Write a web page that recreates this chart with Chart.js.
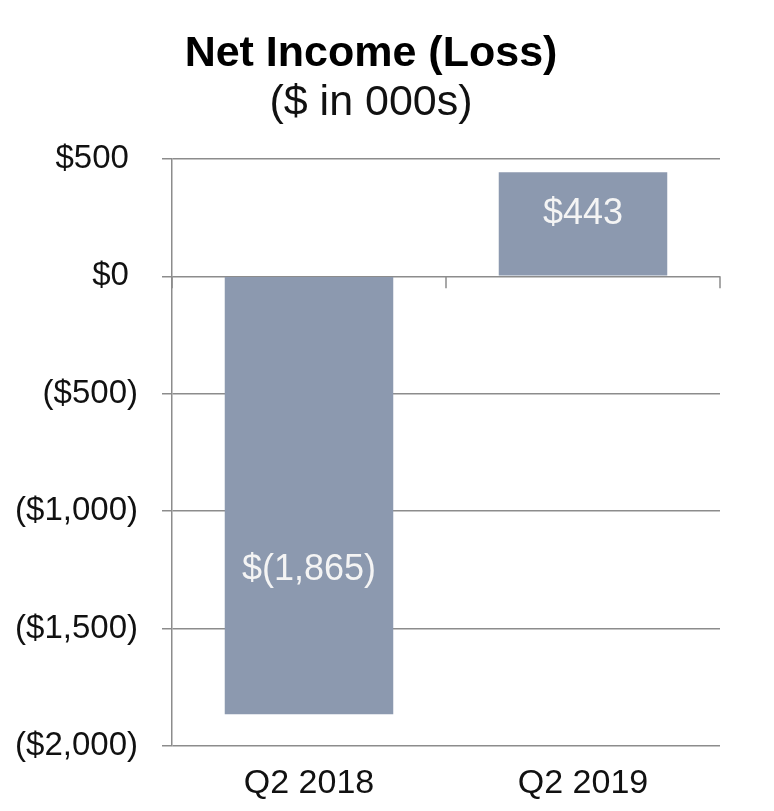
<!DOCTYPE html>
<html>
<head>
<meta charset="utf-8">
<script src="https://cdn.jsdelivr.net/npm/chart.js@4.4.0/dist/chart.umd.min.js"></script>
<style>
  html, body { margin: 0; padding: 0; background: #fff; }
  #wrap { width: 774px; height: 811px; }
</style>
</head>
<body>
<div id="wrap"><canvas id="incomeChart" width="774" height="811"></canvas></div>
<script>
// данные с картинки
const quarters = ['Q2 2018', 'Q2 2019'];
const netIncome = [-1865, 443];
const barLabels = ['$(1,865)', '$443'];
const yTicks = [500, 0, -500, -1000, -1500, -2000];

const FONT = "'Liberation Sans', Arial, sans-serif";
const gridGray = '#8c8c8c';

// формат как в Excel: положительные с отступом под ")"
function money(v) {
  const s = '$' + Math.abs(v).toLocaleString('en-US');
  return v < 0 ? '(' + s + ')' : s + ' ';
}

// подписи внутри столбиков
const barText = {
  id: 'barText',
  afterDatasetsDraw(chart, args, opts) {
    const ctx = chart.ctx;
    const meta = chart.getDatasetMeta(0);
    const y = chart.scales.y;
    ctx.save();
    ctx.font = '36px ' + FONT;
    ctx.fillStyle = '#f4f4f4';
    ctx.textAlign = 'center';
    ctx.textBaseline = 'middle';
    meta.data.forEach((bar, i) => {
      ctx.fillText(barLabels[i], bar.x, y.getPixelForValue(opts.anchors[i]));
    });
    ctx.restore();
  }
};

// засечки на нулевой линии между категориями
const zeroTicks = {
  id: 'zeroTicks',
  afterDraw(chart) {
    const ctx = chart.ctx;
    const x = chart.scales.x;
    const y0 = chart.scales.y.getPixelForValue(0);
    ctx.save();
    ctx.strokeStyle = gridGray;
    ctx.lineWidth = 1.5;
    ctx.beginPath();
    for (let i = 0; i <= quarters.length; i++) {
      const px = x.getPixelForValue(i - 0.5);
      ctx.moveTo(px, y0);
      ctx.lineTo(px, y0 + 12);
    }
    ctx.stroke();
    ctx.restore();
  }
};

new Chart(document.getElementById('incomeChart'), {
  type: 'bar',
  data: {
    labels: quarters,
    datasets: [{
      data: netIncome,
      backgroundColor: '#8c99af',
      borderWidth: 0,
      barPercentage: 0.615,
      categoryPercentage: 1
    }]
  },
  options: {
    responsive: false,
    animation: false,
    layout: { padding: { left: 0, right: 32, top: 0, bottom: 0 } },
    plugins: {
      legend: { display: false },
      tooltip: { enabled: false },
      title: {
        display: true,
        text: 'Net Income (Loss)',
        color: '#000',
        font: { family: FONT, size: 43, weight: 'bold', lineHeight: 1.15 },
        padding: { top: 29, bottom: 0 }
      },
      subtitle: {
        display: true,
        text: '($ in 000s)',
        color: '#111',
        font: { family: FONT, size: 43, lineHeight: 1.15 },
        padding: { top: 0, bottom: 31 }
      },
      barText: { anchors: [-1250, 265] }
    },
    scales: {
      x: {
        offset: true,
        afterFit(scale) { scale.height = 65; },
        grid: { display: false },
        border: { display: false },
        ticks: {
          color: '#111',
          padding: 9,
          font: { family: FONT, size: 34 }
        }
      },
      y: {
        min: -2000,
        max: 500,
        afterFit(scale) { scale.width = 172; },
        afterBuildTicks(scale) { scale.ticks = yTicks.map(v => ({ value: v })); },
        grid: { color: gridGray, lineWidth: 1.5, tickLength: 10 },
        border: { display: true, color: gridGray, width: 1.5 },
        ticks: {
          color: '#111',
          padding: 24,
          font: { family: FONT, size: 33 },
          callback: v => money(v)
        }
      },
      // пустая ось справа, чтобы заголовок стоял по центру как в оригинале
      yPad: {
        position: 'right',
        afterFit(scale) { scale.width = 22; },
        grid: { display: false },
        border: { display: false },
        ticks: { display: false }
      }
    }
  },
  plugins: [barText, zeroTicks]
});
</script>
</body>
</html>
